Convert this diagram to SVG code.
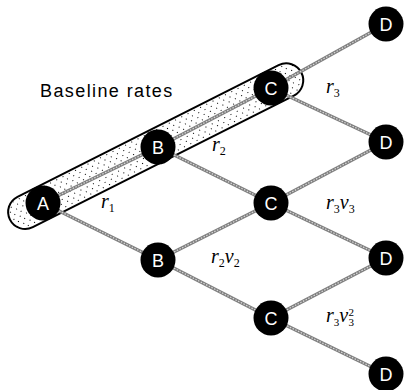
<svg xmlns="http://www.w3.org/2000/svg" width="406" height="390" viewBox="0 0 406 390">
<style>
.edge{stroke:#808080;stroke-width:3.5;fill:none}
.edgein{stroke:#d8d8d8;stroke-width:1.2;stroke-dasharray:1.5 1.5;fill:none}
.node circle{fill:#000}
.node text{fill:#fff;font-family:"Liberation Sans",Arial,sans-serif;font-size:18px;text-anchor:middle}
.m{font-family:"Liberation Serif","Times New Roman",serif;font-size:20px;font-style:italic;fill:#000}
.s{font-style:normal;font-size:12px}
.t{font-style:normal;font-size:11px}
</style>
<defs>
<pattern id="dots" width="7" height="8" patternUnits="userSpaceOnUse">
<rect x="1" y="1" width="1" height="1" fill="#000"/>
<rect x="4" y="5" width="1" height="1" fill="#000"/>
</pattern>
</defs>
<rect width="406" height="390" fill="#fff"/>
<g id="baseline-capsule" transform="translate(155.7 146.2) rotate(-26.75)">
<rect x="-163.2" y="-17" width="326.4" height="34" rx="17" fill="#fff"/>
<rect x="-163.2" y="-17" width="326.4" height="34" rx="17" fill="url(#dots)" stroke="#000" stroke-width="2"/>
</g>
<g id="connectors">
<g class="edge">
<line x1="43" y1="203" x2="158" y2="147"/>
<line x1="43" y1="203" x2="158" y2="260"/>
<line x1="158" y1="147" x2="271" y2="88"/>
<line x1="158" y1="147" x2="271" y2="203"/>
<line x1="158" y1="260" x2="271" y2="203"/>
<line x1="158" y1="260" x2="271" y2="318"/>
<line x1="271" y1="88" x2="386" y2="24"/>
<line x1="271" y1="88" x2="386" y2="142"/>
<line x1="271" y1="203" x2="386" y2="142"/>
<line x1="271" y1="203" x2="386" y2="258"/>
<line x1="271" y1="318" x2="386" y2="258"/>
<line x1="271" y1="318" x2="386" y2="374"/>
</g>
<g class="edgein">
<line x1="43" y1="203" x2="158" y2="147"/>
<line x1="43" y1="203" x2="158" y2="260"/>
<line x1="158" y1="147" x2="271" y2="88"/>
<line x1="158" y1="147" x2="271" y2="203"/>
<line x1="158" y1="260" x2="271" y2="203"/>
<line x1="158" y1="260" x2="271" y2="318"/>
<line x1="271" y1="88" x2="386" y2="24"/>
<line x1="271" y1="88" x2="386" y2="142"/>
<line x1="271" y1="203" x2="386" y2="142"/>
<line x1="271" y1="203" x2="386" y2="258"/>
<line x1="271" y1="318" x2="386" y2="258"/>
<line x1="271" y1="318" x2="386" y2="374"/>
</g>
</g>
<g id="nA" class="node"><circle cx="43" cy="203" r="17.5"/><text x="43" y="209.5">A</text></g>
<g id="nB1" class="node"><circle cx="158" cy="147" r="17.5"/><text x="158" y="153.5">B</text></g>
<g id="nB2" class="node"><circle cx="158" cy="260" r="17.5"/><text x="158" y="266.5">B</text></g>
<g id="nC1" class="node"><circle cx="271" cy="88" r="17.5"/><text x="271" y="94.5">C</text></g>
<g id="nC2" class="node"><circle cx="271" cy="203" r="17.5"/><text x="271" y="209.5">C</text></g>
<g id="nC3" class="node"><circle cx="271" cy="318" r="17.5"/><text x="271" y="324.5">C</text></g>
<g id="nD1" class="node"><circle cx="386" cy="24" r="17.5"/><text x="386" y="30.5">D</text></g>
<g id="nD2" class="node"><circle cx="386" cy="142" r="17.5"/><text x="386" y="148.5">D</text></g>
<g id="nD3" class="node"><circle cx="386" cy="258" r="17.5"/><text x="386" y="264.5">D</text></g>
<g id="nD4" class="node"><circle cx="386" cy="374" r="17.5"/><text x="386" y="380.5">D</text></g>
<text x="40" y="97" font-family="Liberation Sans,Arial,sans-serif" font-size="18" letter-spacing="1.4" fill="#000">Baseline rates</text>
<text class="m" x="101" y="208">r<tspan class="s" dy="4">1</tspan></text>
<text class="m" x="212" y="151">r<tspan class="s" dy="4">2</tspan></text>
<text class="m" x="326" y="93">r<tspan class="s" dy="4">3</tspan></text>
<text class="m" x="326" y="209">r<tspan class="s" dy="4">3</tspan><tspan dy="-4">v</tspan><tspan class="s" dy="4">3</tspan></text>
<text class="m" x="211" y="263">r<tspan class="s" dy="4">2</tspan><tspan dy="-4">v</tspan><tspan class="s" dy="4">2</tspan></text>
<text class="m" x="326" y="322">r<tspan class="t" dy="4">3</tspan><tspan dy="-4">v</tspan><tspan class="t" x="348.5" dy="4">3</tspan><tspan class="t" x="348.5" dy="-10">2</tspan></text>
</svg>
